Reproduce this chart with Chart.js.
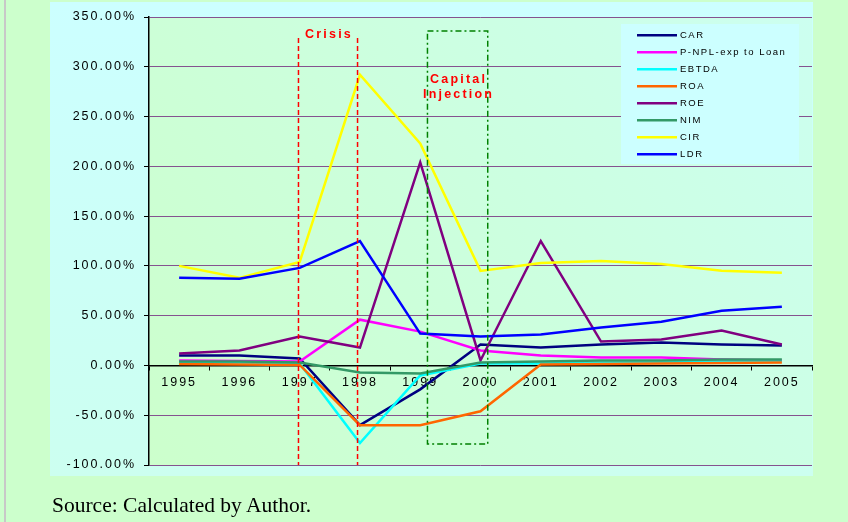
<!DOCTYPE html>
<html>
<head>
<meta charset="utf-8">
<script src="https://cdn.jsdelivr.net/npm/chart.js@4.4.1/dist/chart.umd.min.js"></script>
<style>
  html, body { margin: 0; padding: 0; background: #ccffcc; width: 848px; height: 522px; overflow: hidden; }
  #wrap { position: relative; width: 848px; height: 522px; }
  canvas { position: absolute; left: 0; top: 0; }
  #source {
    position: absolute; left: 52px; top: 495px;
    font-family: 'Liberation Serif', 'Times New Roman', serif;
    font-size: 21.5px; line-height: 21.5px; color: #000; white-space: nowrap;
  }
</style>
</head>
<body>
<div id="wrap">
  <canvas id="c" width="848" height="522"></canvas>
  <div id="source">Source: Calculated by Author.</div>
</div>
<script>
// Bank performance ratios, 1995-2005 (percent)
const years = ['1995', '1996', '1997', '1998', '1999', '2000', '2001', '2002', '2003', '2004', '2005'];
const CAR   = [10, 10, 7, -60, -24, 21, 18, 21, 23, 21, 20];
const NPL   = [5, 4.5, 4, 46, 34, 15, 10, 8, 8, 6, 5];
const EBTDA = [3, 3, 2, -78, -10, 2, 2, 3, 3, 4, 4];
const ROA   = [1.5, 1, 0.5, -60, -60, -46, 1, 1.5, 2, 2.5, 3];
const ROE   = [12, 15, 29, 18, 204, 5, 125, 24, 26, 35, 21];
const NIM   = [4, 4, 3, -7, -8, 3, 4, 5, 5, 6, 6];
const CIR   = [100, 88, 104, 292, 223, 95, 103, 105, 102, 95, 93];
const LDR   = [88, 87, 98, 125, 32, 29, 31, 38, 44, 55, 59];
const yTicks = { min: -100, max: 350, step: 50 };

const series = [
  { label: 'CAR', data: CAR, color: '#000080' },
  { label: 'P-NPL-exp to Loan', data: NPL, color: '#ff00ff' },
  { label: 'EBTDA', data: EBTDA, color: '#00ffff' },
  { label: 'ROA', data: ROA, color: '#ff6600' },
  { label: 'ROE', data: ROE, color: '#800080' },
  { label: 'NIM', data: NIM, color: '#339966' },
  { label: 'CIR', data: CIR, color: '#ffff00' },
  { label: 'LDR', data: LDR, color: '#0000ff' }
];

const SANS = "'Liberation Sans', Arial, Helvetica, sans-serif";

// Background panels: page, outer panel and plot area
const panels = {
  id: 'panels',
  beforeDraw(chart) {
    const { ctx, chartArea: a } = chart;
    ctx.save();
    ctx.fillStyle = '#ccffcc';
    ctx.fillRect(0, 0, chart.width, chart.height);
    ctx.fillStyle = '#c8c8c8';
    ctx.fillRect(4, 0, 2, chart.height);
    let g = ctx.createLinearGradient(0, a.top - 15, 0, a.bottom + 11);
    g.addColorStop(0, '#ccffff');
    g.addColorStop(1, '#ccfff0');
    ctx.fillStyle = g;
    ctx.fillRect(a.left - 99, a.top - 15, a.width + 100, a.height + 26);
    g = ctx.createLinearGradient(a.left, a.bottom, a.right, a.top);
    g.addColorStop(0, '#ccffcc');
    g.addColorStop(1, '#ccfff0');
    ctx.fillStyle = g;
    ctx.fillRect(a.left, a.top, a.width, a.height);
    ctx.restore();
    ctx.letterSpacing = '2px';
  }
};

// Period markers: crisis years and the capital injection window
const periods = {
  id: 'periods',
  afterDatasetsDraw(chart) {
    const { ctx, chartArea: a, scales: { x, y } } = chart;
    ctx.save();
    // crisis
    ctx.strokeStyle = '#ff0000';
    ctx.lineWidth = 1.5;
    ctx.setLineDash([5, 3]);
    const top = y.getPixelForValue(329);
    [x.getPixelForValue(1.98), x.getPixelForValue(2.96)].forEach(px => {
      ctx.beginPath();
      ctx.moveTo(px, top);
      ctx.lineTo(px, a.bottom);
      ctx.stroke();
    });
    // capital injection
    ctx.strokeStyle = '#008000';
    ctx.setLineDash([6, 3, 2, 3]);
    const l = x.getPixelForValue(4.12), r = x.getPixelForValue(5.12);
    const t = y.getPixelForValue(336), b = y.getPixelForValue(-79);
    ctx.strokeRect(l, t, r - l, b - t);
    ctx.setLineDash([]);
    // labels
    ctx.fillStyle = '#ff0000';
    ctx.font = 'bold 12.5px ' + SANS;
    ctx.letterSpacing = '2.2px';
    ctx.textAlign = 'center';
    ctx.textBaseline = 'alphabetic';
    const cx = (x.getPixelForValue(1.98) + x.getPixelForValue(2.96)) / 2;
    ctx.fillText('Crisis', cx + 1, 38);
    ctx.fillText('Capital', (l + r) / 2 + 1, 83);
    ctx.fillText('Injection', (l + r) / 2 + 1, 98);
    ctx.restore();
  }
};

// Legend panel drawn inside the plot
const legendBox = {
  id: 'legendBox',
  afterDraw(chart) {
    const { ctx } = chart;
    ctx.save();
    ctx.fillStyle = '#ccffff';
    ctx.fillRect(621, 24, 178, 140);
    ctx.font = '9.5px ' + SANS;
    ctx.letterSpacing = '1.5px';
    ctx.textAlign = 'left';
    ctx.textBaseline = 'middle';
    chart.data.datasets.forEach((ds, i) => {
      const yy = 35.3 + i * 17;
      ctx.strokeStyle = ds.borderColor;
      ctx.lineWidth = 2.5;
      ctx.beginPath();
      ctx.moveTo(637, yy);
      ctx.lineTo(677, yy);
      ctx.stroke();
      ctx.fillStyle = '#000';
      ctx.fillText(ds.label, 680, yy + 0.5);
    });
    ctx.restore();
  }
};

new Chart(document.getElementById('c'), {
  type: 'line',
  data: {
    labels: years,
    datasets: series.map((s, i) => ({
      label: s.label,
      data: s.data,
      borderColor: s.color,
      backgroundColor: s.color,
      borderWidth: 2.5,
      pointRadius: 0,
      tension: 0,
      fill: false,
      order: series.length - i
    }))
  },
  options: {
    responsive: false,
    devicePixelRatio: 1,
    animation: false,
    layout: { padding: { left: 50, right: 36, top: 17, bottom: 57 } },
    plugins: { legend: { display: false }, tooltip: { enabled: false } },
    scales: {
      x: {
        position: { y: 0 },
        offset: true,
        grid: { display: true, drawOnChartArea: false, drawTicks: true, tickLength: 4, tickColor: '#000', offset: true },
        border: { display: true, color: '#000', width: 1.5 },
        ticks: { color: '#000', font: { family: SANS, size: 12.5 }, padding: 6, maxRotation: 0, autoSkip: false }
      },
      y: {
        min: yTicks.min,
        max: yTicks.max,
        afterFit(scale) { scale.width = 99; },
        grid: { color: '#85528f', lineWidth: 1, tickLength: 5, tickColor: '#000' },
        border: { display: true, color: '#000', width: 1.5 },
        ticks: {
          stepSize: yTicks.step,
          color: '#000',
          font: { family: SANS, size: 12.5 },
          padding: 8,
          callback: v => v.toFixed(2) + '%'
        }
      }
    }
  },
  plugins: [panels, periods, legendBox]
});
</script>
</body>
</html>
